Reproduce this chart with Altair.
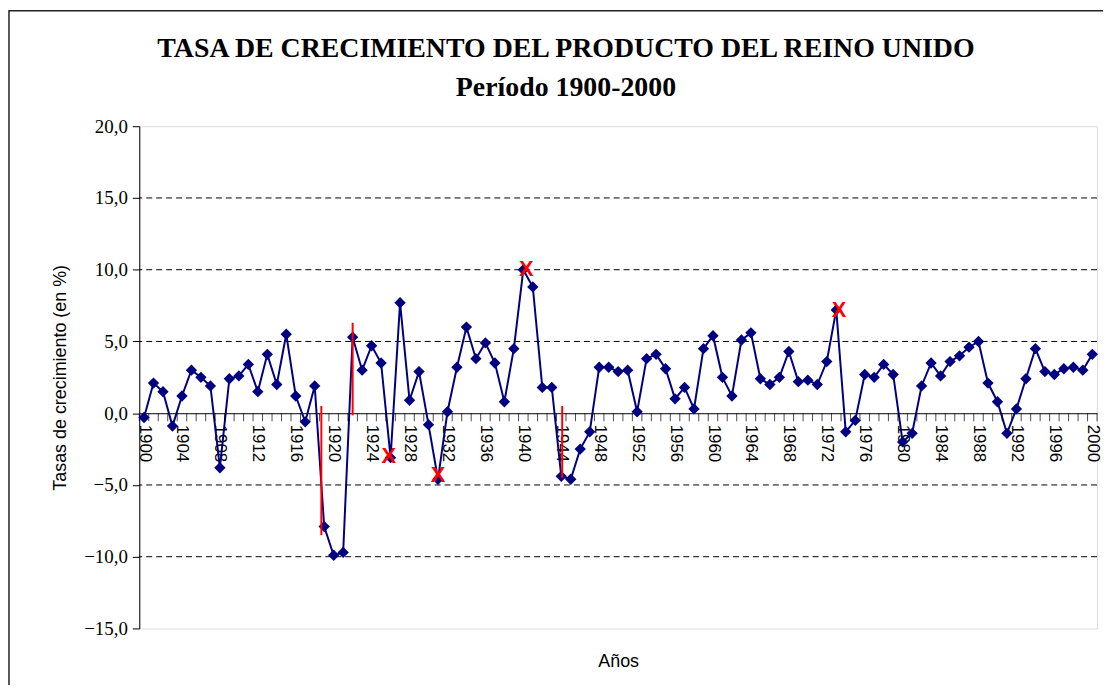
import altair as alt
import pandas as pd

years = list(range(1900, 2001))
growth = [
    -0.3, 2.1, 1.5, -0.9, 1.2, 3.0, 2.5, 1.9, -3.8, 2.4,
    2.6, 3.4, 1.5, 4.1, 2.0, 5.5, 1.2, -0.6, 1.9, -7.9,
    -9.9, -9.7, 5.3, 3.0, 4.7, 3.5, -3.1, 7.7, 0.9, 2.9,
    -0.8, -4.6, 0.1, 3.2, 6.0, 3.8, 4.9, 3.5, 0.8, 4.5,
    10.0, 8.8, 1.8, 1.8, -4.4, -4.6, -2.5, -1.3, 3.2, 3.2,
    2.9, 3.0, 0.1, 3.8, 4.1, 3.1, 1.0, 1.8, 0.3, 4.5,
    5.4, 2.5, 1.2, 5.1, 5.6, 2.4, 2.0, 2.5, 4.3, 2.2,
    2.3, 2.0, 3.6, 7.2, -1.3, -0.5, 2.7, 2.5, 3.4, 2.7,
    -2.0, -1.4, 1.9, 3.5, 2.6, 3.6, 4.0, 4.6, 5.0, 2.1,
    0.8, -1.4, 0.3, 2.4, 4.5, 2.9, 2.7, 3.1, 3.2, 3.0,
    4.1,
]

# red "X" annotations
x_mark_years = [1925.8, 1931.0, 1940.3, 1973.3]
x_mark_values = [-3.0, -4.3, 10.05, 7.2]

# red vertical annotation lines
red_line_years = [1918.7, 1922.0, 1944.1]
red_line_top = [0.5, 6.3, 0.5]
red_line_bottom = [-8.5, -0.15, -4.5]

grid_values = [15, 10, 5, -5, -10]
y_ticks = [-15, -10, -5, 0, 5, 10, 15, 20]
x_label_years = list(range(1900, 2001, 4))
tick_positions = [y - 0.5 for y in range(1900, 2002)]

title_line1 = "TASA DE CRECIMIENTO DEL PRODUCTO DEL REINO UNIDO"
title_line2 = "Período 1900-2000"

df = pd.DataFrame({"year": years, "growth": growth})
df_x = pd.DataFrame({"year": x_mark_years, "growth": x_mark_values})
df_red = pd.DataFrame({"year": red_line_years, "growth": red_line_top, "bottom": red_line_bottom})
df_grid = pd.DataFrame({"growth": grid_values})
df_ticks = pd.DataFrame({"year": tick_positions, "growth": [0] * len(tick_positions)})
df_one = pd.DataFrame({"a": [1]})

NAVY = "#000080"
xscale = alt.Scale(domain=[1899.5, 2000.5], nice=False, zero=False)
yscale = alt.Scale(domain=[-15, 20], nice=False, zero=False)

x_axis = alt.Axis(
    values=x_label_years, format="d", labelAngle=90, labelAlign="left", labelBaseline="middle",
    labelFont="Liberation Sans", labelFontSize=17, labelColor="black", labelPadding=11,
    labelFlush=False, labelOverlap=False, ticks=False, grid=False,
    domainColor="black", domainWidth=1, offset=-216.4,
    title="Años", titleFont="Liberation Sans", titleFontSize=18, titleFontWeight="normal",
    titleColor="black", titleY=250, titleBaseline="middle",
)
y_axis = alt.Axis(
    values=y_ticks, labelExpr="replace(format(datum.value, '.1f'), '.', ',')",
    labelFont="Liberation Serif", labelFontSize=19, labelColor="black", labelPadding=5,
    tickSize=7, tickColor="black", domainColor="black", domainWidth=1, grid=False,
    title="Tasas de crecimiento (en %)", titleFont="Liberation Sans", titleFontSize=18,
    titleFontWeight="normal", titleColor="black", titlePadding=14,
)

X = alt.X("year:Q", scale=xscale, axis=x_axis)
Y = alt.Y("growth:Q", scale=yscale, axis=y_axis)

border = alt.Chart(df_one).mark_rect(fill="white", fillOpacity=0, stroke="#222222", strokeWidth=1.5).encode(
    x=alt.value(-131), x2=alt.value(1500), y=alt.value(-116), y2=alt.value(1500)
)

grid = alt.Chart(df_grid).mark_rule(color="black", strokeWidth=1, strokeDash=[6, 4]).encode(y=Y)

line = alt.Chart(df).mark_line(color=NAVY, strokeWidth=2).encode(x=X, y=Y)

points = alt.Chart(df).mark_point(shape="diamond", filled=True, color=NAVY, size=130, opacity=1).encode(x=X, y=Y)

ticks = alt.Chart(df_ticks).mark_tick(orient="vertical", color="black", thickness=1, size=8, yOffset=4).encode(x=X, y=Y)

red_lines = alt.Chart(df_red).mark_rule(color="#FF0000", strokeWidth=2).encode(x=X, y=Y, y2="bottom:Q")

x_marks = alt.Chart(df_x).mark_text(
    text="X", color="#FF0000", font="Liberation Sans", fontWeight="bold", fontSize=22, baseline="middle"
).encode(x=X, y=Y)

t1 = alt.Chart(df_one).mark_text(
    text=title_line1, font="Liberation Serif", fontSize=28, fontWeight="bold", color="black",
    align="center", baseline="middle",
).encode(x=alt.value(429), y=alt.value(-78))
t2 = alt.Chart(df_one).mark_text(
    text=title_line2, font="Liberation Serif", fontSize=28, fontWeight="bold", color="black",
    align="center", baseline="middle",
).encode(x=alt.value(429), y=alt.value(-38))

chart = alt.layer(border, grid, line, ticks, points, red_lines, x_marks, t1, t2).properties(
    width=963,
    height=505,
    padding={"left": 132, "top": 117, "right": 6, "bottom": 55},
    autosize=alt.AutoSizeParams(type="none"),
).configure_view(stroke="#808080", strokeWidth=1.2).configure(background="white")

chart.save("out.html", embed_options={"renderer": "svg", "actions": False})
